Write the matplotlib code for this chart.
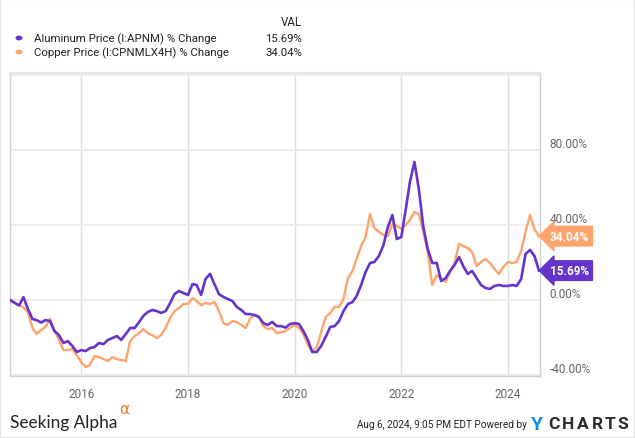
import matplotlib
matplotlib.use("Agg")
import matplotlib.pyplot as plt
import matplotlib.patches as mpatches
import numpy as np
import pandas as pd

plt.rcParams['font.family'] = ['Roboto', 'DejaVu Sans']

dates = pd.date_range("2014-09-01", periods=120, freq="MS")

aluminum = [0, -1.5, -2.9, 1.5, -4.8, -10.1, -10.7, -12, -10.7, -11.2,
            -16.5, -18.7, -22.9, -21.9, -24.5, -27.7, -26.7, -27.2, -25.6, -25.1,
            -22.9, -23.5, -21.3, -20.3, -19.2, -21.3, -18.1, -14.9, -14.9, -11.7,
            -8.5, -6.4, -5.3, -5.9, -6.9, -5.9, -1.6, 3.2, 4.8, 3.7,
            2.7, 8.5, 8.0, 2.7, 11.2, 13.9, 8.5, 3.2, 1.6, 0.5,
            -0.5, -3.7, -5.3, -7.5, -7.5, -8, -9.1, -12.3, -13.3, -11.7,
            -13.9, -13.9, -14.7, -12.8, -12.3, -12.8, -16.5, -21.3, -27.7, -27.7,
            -24.5, -19.7, -14.4, -13.9, -11.2, -5.9, -2.1, -1.1, 2.1, 8,
            14.9, 19.7, 20.3, 23.5, 29.3, 38.9, 45.3, 32.5, 33.6, 48.5,
            62.9, 73.6, 59.2, 38.9, 27.2, 19.7, 19.7, 10.1, 11.7, 15.5,
            18.7, 22.9, 18.1, 13.9, 15.5, 11.7, 8, 6.4, 5.9, 7.5,
            8, 7.5, 7.5, 8, 7.5, 11.2, 24.5, 26.7, 23.5, 15.69]

copper = [0, -1.3, -2.9, -3.9, -6.4, -14.9, -18.1, -16, -14.4, -10.1,
          -16, -21.3, -26.7, -26.7, -26.1, -29.3, -33.1, -35.7, -34.7, -29.9,
          -30.4, -31.5, -32.5, -30.4, -31.5, -32, -32.5, -21.9, -19.2, -17.6,
          -15.5, -17.6, -18.7, -20.3, -18.7, -14.9, -9.6, -5.9, -4.3, -2.1,
          -2.1, 1.1, -0.5, -2.7, -1.6, -2.1, -1.1, -5.9, -12.3, -13.3,
          -11.2, -11.7, -13.3, -14.9, -10.1, -8, -8.5, -13.9, -15.5, -14.9,
          -17.6, -17.3, -16.5, -14.9, -13.3, -14.9, -18.1, -24, -27.2, -25.1,
          -17.1, -9.1, -6.9, -3.7, -3.7, 0.5, 11.7, 15.5, 21.9, 28.8,
          33.6, 45.9, 38.4, 36.3, 34.7, 34.1, 40.5, 39.5, 37.9, 40,
          42.7, 46.9, 45.9, 36.3, 25.6, 8, 13.3, 11.7, 9.6, 14.9,
          19.7, 29.9, 28.8, 27.7, 25.6, 18.1, 20.3, 21.9, 19.7, 16.5,
          13.9, 17.6, 20.3, 19.7, 20.3, 26.1, 36.3, 45.3, 37.9, 34.04]

series_names = ["Aluminum Price (I:APNM) % Change", "Copper Price (I:CPNMLX4H) % Change"]
last_vals = ["15.69%", "34.04%"]
ytick_vals = [-40, 0, 40, 80]
xtick_years = [2016, 2018, 2020, 2022, 2024]

PURPLE = "#6434cc"
ORANGE = "#ffa36c"

W, H = 635, 439
fig = plt.figure(figsize=(W / 100, H / 100), dpi=100)
fig.patch.set_facecolor("white")

def fx(px):
    return px / W

def fy(py):
    return 1 - py / H

ax = fig.add_axes([fx(10), fy(377), fx(540) - fx(10), fy(74) - fy(377)])
ax.plot(dates, copper, color=ORANGE, lw=1.7, zorder=3)
ax.plot(dates, aluminum, color=PURPLE, lw=1.9, zorder=4)

ax.set_xlim(pd.Timestamp("2014-08-31"), pd.Timestamp("2024-08-08"))
ax.set_ylim(-40.5, 121)

ax.set_yticks(ytick_vals + [120])
ax.set_xticks([pd.Timestamp(f"{y}-01-01") for y in xtick_years])
ax.yaxis.tick_right()
ax.set_yticklabels([f"{v:.2f}%" for v in ytick_vals] + [""])
ax.set_xticklabels([str(y) for y in xtick_years])
ax.tick_params(axis="y", length=0, pad=7, labelsize=8.5, labelcolor="#666666")
ax.tick_params(axis="x", length=0, pad=8, labelsize=8.5, labelcolor="#666666")
for lab in ax.get_yticklabels():
    lab.set_verticalalignment("bottom")
ax.grid(axis="y", color="#ebebeb", lw=1.3)
ax.grid(axis="x", color="#dedede", lw=1.0)
ax.set_axisbelow(True)
for s in ["left", "bottom", "right", "top"]:
    ax.spines[s].set_color("#d0d0d0")
    ax.spines[s].set_linewidth(1.0)
ax.spines["top"].set_color("#e6e6e6")
ax.spines["top"].set_linewidth(1.5)

# value tags
def tag(val, label, color):
    trans = ax.get_yaxis_transform()
    ax.annotate(label, xy=(1.0, val), xycoords=trans,
                xytext=(1.0 + 10 / 530, val), textcoords=trans,
                ha="left", va="center", fontsize=8.5, fontweight="bold",
                color="white", zorder=6, annotation_clip=False,
                bbox=dict(boxstyle="larrow,pad=0.28", fc=color, ec=color))

tag(copper[-1], last_vals[1], ORANGE)
tag(aluminum[-1], last_vals[0], PURPLE)

# legend header
fig.text(fx(302), fy(23), "VAL", ha="right", va="center", fontsize=8.3, color="#222222")
for i, (name, col, v) in enumerate(zip(series_names, [PURPLE, ORANGE], last_vals)):
    yy = 39 + i * 14
    fig.patches.append(mpatches.Circle((fx(19), fy(yy)), radius=0.0055, transform=fig.transFigure,
                                       fc=col, ec="none"))
    fig.text(fx(34), fy(yy), name, ha="left", va="center", fontsize=8.2, color="#222222")
    fig.text(fx(302), fy(yy), v, ha="right", va="center", fontsize=8.2, color="#222222")

# footer
fig.text(fx(10), fy(423), "Seeking Alpha", ha="left", va="center", fontsize=12.4,
         color="#222222", family=["Lato", "DejaVu Sans"])
fig.text(fx(119), fy(410), "α", ha="left", va="center", fontsize=11,
         color="#f07c1a", family=["DejaVu Sans"])
fig.text(fx(527), fy(425), "Aug 6, 2024, 9:05 PM EDT Powered by", ha="right", va="center",
         fontsize=7.2, color="#222222")
fig.text(fx(531), fy(425), "Y", ha="left", va="center", fontsize=14, fontweight="bold",
         color="#1b8be0")
for ch, px in zip("CHARTS", [548, 562, 577, 592, 605, 617]):
    fig.text(fx(px), fy(425), ch, ha="left", va="center", fontsize=12.5, fontweight="bold",
             color="#2a2a2a")

# figure border
fig.patches.append(mpatches.Rectangle((0, 0), 1, 1, transform=fig.transFigure, fill=False,
                                      ec="#e0e0e0", lw=1.5))

fig.savefig("out.png", dpi=100)
